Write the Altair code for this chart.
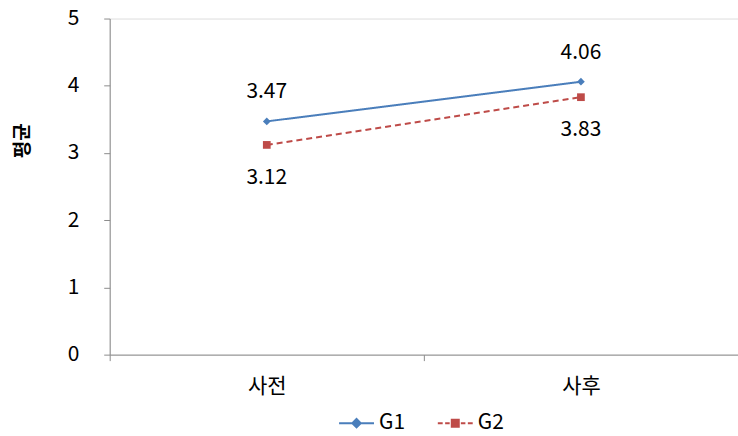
import altair as alt
import pandas as pd

categories = ["사전", "사후"]
series = ["G1", "G2"]
g1_values = [3.47, 4.06]
g2_values = [3.12, 3.83]
y_ticks = [0, 1, 2, 3, 4, 5]

rows = []
for s, vals in zip(series, [g1_values, g2_values]):
    for c, v in zip(categories, vals):
        rows.append({"시점": c, "series": s, "value": v, "label": f"{v:.2f}"})
df = pd.DataFrame(rows)

colors = ["#4A7EBB", "#BE4B48"]
FONT = "Noto Sans CJK KR"
FS = 21

x_enc = alt.X(
    "시점:N",
    sort=categories,
    scale=alt.Scale(paddingInner=0, paddingOuter=0),
    axis=alt.Axis(
        title=None, labelAngle=0, tickBand="extent", tickSize=6,
        labelPadding=15, labelFontSize=FS, labelColor="#000000",
        domainColor="#8c8c8c", tickColor="#8c8c8c", grid=False,
    ),
)
y_enc = alt.Y(
    "value:Q",
    scale=alt.Scale(domain=[0, 5], nice=False, zero=True),
    axis=alt.Axis(
        title="평균", values=y_ticks, tickSize=6, labelPadding=25,
        labelFontSize=FS, labelColor="#000000", domainColor="#8c8c8c",
        tickColor="#8c8c8c", grid=False, titleFontSize=19,
        titleFontWeight="bold", titleX=-87, titleY=122,
        titleBaseline="middle", titleColor="#000000",
    ),
)
color_enc = alt.Color("series:N", scale=alt.Scale(domain=series, range=colors), legend=None)

base = alt.Chart(df).encode(x=x_enc, y=y_enc)

lines = base.mark_line(strokeWidth=2).encode(
    color=color_enc,
    strokeDash=alt.StrokeDash(
        "series:N", scale=alt.Scale(domain=series, range=[[1, 0], [6, 4]]), legend=None
    ),
)

points = base.mark_point(filled=True, size=60, opacity=1).encode(
    color=color_enc,
    shape=alt.Shape("series:N", scale=alt.Scale(domain=series, range=["diamond", "square"]), legend=None),
)

# legend glyphs: line + marker (marker drawn as nested outlines so the stroke fills it)
g1_path = ("M-1,0H1"
           "M0,-0.24L0.24,0L0,0.24L-0.24,0Z"
           "M0,-0.14L0.14,0L0,0.14L-0.14,0Z"
           "M0,-0.05L0.05,0L0,0.05L-0.05,0Z")
g2_path = ("M-1,0H-0.72M-0.58,0H-0.32M0.32,0H0.58M0.72,0H1"
           "M-0.2,-0.2H0.2V0.2H-0.2Z"
           "M-0.1,-0.1H0.1V0.1H-0.1Z"
           "M-0.02,-0.02H0.02V0.02H-0.02Z")


def make_legend():
    return alt.Legend(
        title=None, orient="none", direction="horizontal",
        legendX=229, legendY=387, symbolSize=1225, symbolOpacity=1,
        symbolStrokeWidth=2, labelFontSize=FS, labelColor="#000000",
        labelOffset=4, columnPadding=28,
    )


legend_layer = base.mark_point(filled=False, opacity=0, strokeWidth=2).encode(
    shape=alt.Shape(
        "series:N", scale=alt.Scale(domain=series, range=[g1_path, g2_path]), legend=make_legend()
    ),
    color=alt.Color("series:N", scale=alt.Scale(domain=series, range=colors), legend=make_legend()),
)

text_g1 = base.transform_filter(alt.datum.series == "G1").mark_text(
    dy=-29, fontSize=FS, color="#000000", baseline="middle"
).encode(text="label:N")
text_g2 = base.transform_filter(alt.datum.series == "G2").mark_text(
    dy=33, fontSize=FS, color="#000000", baseline="middle"
).encode(text="label:N")

chart = (
    alt.layer(lines, points, legend_layer, text_g1, text_g2)
    .resolve_scale(shape="independent", color="independent")
    .properties(
        width=630, height=337,
        autosize=alt.AutoSizeParams(type="none"),
        padding={"left": 110, "top": 18, "right": 0, "bottom": 81},
    )
    .configure_view(stroke=None)
    .configure(font=FONT, background="#ffffff")
)

chart.save("out.html", embed_options={"renderer": "svg", "actions": False})
